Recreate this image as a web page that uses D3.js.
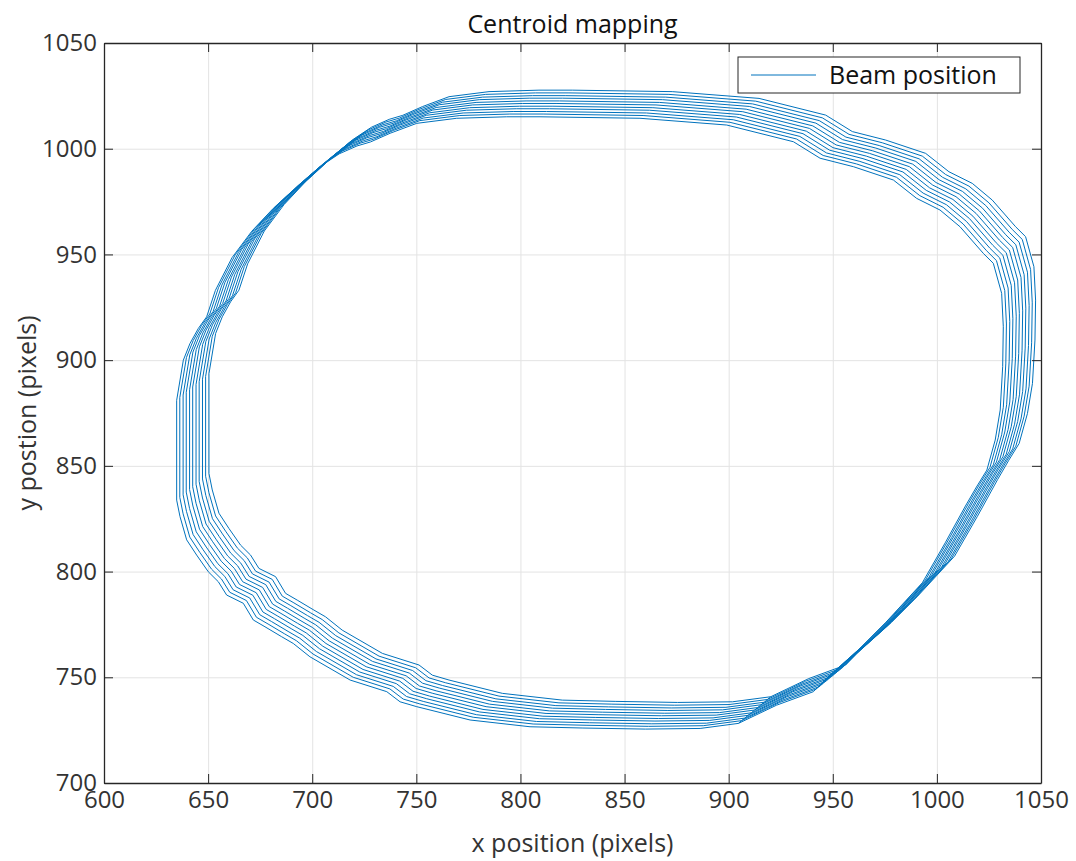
<!DOCTYPE html>
<html>
<head>
<meta charset="utf-8">
<script src="https://cdn.jsdelivr.net/npm/d3@7"></script>
<style>
  body { margin: 0; background: #fff; }
  text { font-family: "Open Sans", sans-serif; fill: #333; }
</style>
</head>
<body>
<div id="wrapper"></div>
<script>
// outermost loop of the beam trace, data units
const loopX = [904.7, 923, 940.7, 947, 962.5, 975.3, 993, 1004, 1013.7, 1019, 1024, 1028, 1030.4, 1031.6, 1031.9, 1031.1, 1027.1, 1022.3, 1011.1,
  1001.5, 990.3, 979.1, 959.9, 943.9, 931.1, 899.1, 857.4, 809.4, 793.4, 769.4, 750.2, 737.4, 728, 721.5, 713, 703.7, 692.6, 681.3,
  671, 661.5, 653.5, 649.3, 645.3, 641.3, 638.1, 634.9, 634.9, 636.5, 639.7, 644.5, 650.1, 654.9, 658.9, 666.9, 671.7, 677.3, 685.3,
  690.9, 698.9, 718.2, 735.8, 742.2, 750.2, 775.8, 804.6, 830, 860, 886.3, 904.7];
const loopY = [728.2, 736.8, 743.2, 749.5, 763.2, 775.8, 794.7, 813.6, 831, 840, 848, 862.2, 876.4, 896.9, 915.8, 931.6, 945.8, 950.5, 963.1,
  971, 976.5, 985.2, 991.5, 995.5, 1003.3, 1011.2, 1014.4, 1015.1, 1015.1, 1014.4, 1012, 1007.3, 1003.2, 1001.3, 997.6, 991.5, 982, 971.8,
  961, 948.5, 933, 920.5, 915, 907.9, 900, 881, 833.8, 826, 815, 807.8, 799.9, 795.2, 788.9, 785, 777.1, 773.9, 769.2,
  766, 759.7, 748.7, 743.2, 738.4, 736.1, 729.8, 726.6, 726, 725.5, 725.8, 728.2];

// drift of each successive pass of the loop
const shiftX = [0, 1.5, 3.1, 4.6, 6.2, 7.7, 9.3, 10.8, 12.4, 13.9, 15.5];
const shiftY = [0, 1.3, 2.5, 3.8, 5.0, 6.3, 7.5, 8.8, 10.0, 11.3, 12.6];

const xTicks = [600, 650, 700, 750, 800, 850, 900, 950, 1000, 1050];
const yTicks = [700, 750, 800, 850, 900, 950, 1000, 1050];

const lineColor = "#0072BD";
const axisColor = "#262626";

const dimensions = {
  width: 1076,
  height: 861,
  margin: { top: 43, right: 35, bottom: 78, left: 104 }
};
dimensions.boundedWidth = dimensions.width - dimensions.margin.left - dimensions.margin.right;
dimensions.boundedHeight = dimensions.height - dimensions.margin.top - dimensions.margin.bottom;

const svg = d3.select("#wrapper").append("svg")
  .attr("width", dimensions.width)
  .attr("height", dimensions.height);

const bounds = svg.append("g")
  .attr("transform", `translate(${dimensions.margin.left},${dimensions.margin.top})`);

const xScale = d3.scaleLinear().domain([600, 1050]).range([0, dimensions.boundedWidth]);
const yScale = d3.scaleLinear().domain([700, 1050]).range([dimensions.boundedHeight, 0]);

// grid
bounds.append("g")
  .attr("transform", `translate(0,${dimensions.boundedHeight})`)
  .call(d3.axisBottom(xScale).tickValues(xTicks).tickSize(-dimensions.boundedHeight).tickFormat(""))
  .call(g => g.select(".domain").remove())
  .call(g => g.selectAll("line").attr("stroke", "#e3e3e3"));
bounds.append("g")
  .call(d3.axisLeft(yScale).tickValues(yTicks).tickSize(-dimensions.boundedWidth).tickFormat(""))
  .call(g => g.select(".domain").remove())
  .call(g => g.selectAll("line").attr("stroke", "#e3e3e3"));

// one continuous trace made of the successive passes
const points = [];
shiftX.forEach((sx, i) => {
  loopX.forEach((x, j) => points.push([x + sx, loopY[j] + shiftY[i]]));
});

const line = d3.line()
  .x(d => xScale(d[0]))
  .y(d => yScale(d[1]));

bounds.append("path")
  .datum(points)
  .attr("d", line)
  .attr("fill", "none")
  .attr("stroke", lineColor)
  .attr("stroke-width", 1)
  .attr("stroke-linejoin", "round");

// axes with inward ticks on all sides
const tickLen = 9;
const fmt = d3.format("d");
const styleAxis = g => {
  g.select(".domain").attr("stroke", axisColor).attr("stroke-width", 1.3);
  g.selectAll(".tick line").attr("stroke", axisColor);
  g.selectAll(".tick text").style("font-size", "24px").attr("fill", "#333");
};

bounds.append("g")
  .attr("transform", `translate(0,${dimensions.boundedHeight})`)
  .call(d3.axisBottom(xScale).tickValues(xTicks).tickFormat(fmt).tickSizeInner(-tickLen).tickSizeOuter(0).tickPadding(7))
  .call(styleAxis)
  .call(g => g.selectAll(".tick text").attr("dy", "0.75em"));

bounds.append("g")
  .call(d3.axisTop(xScale).tickValues(xTicks).tickSizeInner(-tickLen).tickSizeOuter(0).tickFormat(""))
  .call(styleAxis);

bounds.append("g")
  .call(d3.axisLeft(yScale).tickValues(yTicks).tickFormat(fmt).tickSizeInner(-tickLen).tickSizeOuter(0).tickPadding(7))
  .call(styleAxis);

bounds.append("g")
  .attr("transform", `translate(${dimensions.boundedWidth},0)`)
  .call(d3.axisRight(yScale).tickValues(yTicks).tickSizeInner(-tickLen).tickSizeOuter(0).tickFormat(""))
  .call(styleAxis);

// title and labels
svg.append("text")
  .attr("x", dimensions.margin.left + dimensions.boundedWidth / 2)
  .attr("y", 33)
  .attr("text-anchor", "middle")
  .style("font-size", "25px")
  .style("fill", "#111")
  .text("Centroid mapping");

svg.append("text")
  .attr("x", dimensions.margin.left + dimensions.boundedWidth / 2)
  .attr("y", 852)
  .attr("text-anchor", "middle")
  .style("font-size", "25px")
  .text("x position (pixels)");

svg.append("text")
  .attr("transform", `translate(36,${dimensions.margin.top + dimensions.boundedHeight / 2}) rotate(-90)`)
  .attr("text-anchor", "middle")
  .style("font-size", "25px")
  .text("y postion (pixels)");

// legend
const legend = svg.append("g").attr("transform", "translate(738,57)");
legend.append("rect")
  .attr("width", 282)
  .attr("height", 36)
  .attr("fill", "#fff")
  .attr("stroke", axisColor)
  .attr("stroke-width", 1);
legend.append("line")
  .attr("x1", 13).attr("x2", 78)
  .attr("y1", 18).attr("y2", 18)
  .attr("stroke", lineColor)
  .attr("stroke-width", 1);
legend.append("text")
  .attr("x", 91)
  .attr("y", 27)
  .style("font-size", "25px")
  .style("fill", "#111")
  .text("Beam position");
</script>
</body>
</html>
